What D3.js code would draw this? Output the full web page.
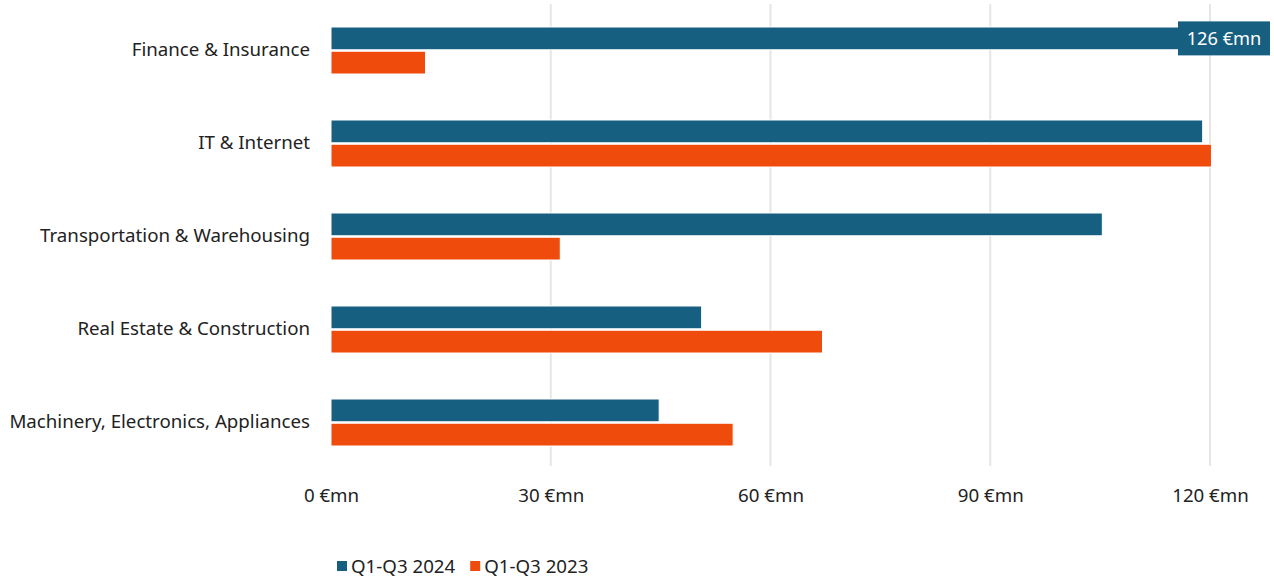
<!DOCTYPE html>
<html>
<head>
<meta charset="utf-8">
<script src="https://cdn.jsdelivr.net/npm/d3@7"></script>
<style>
  html, body { margin: 0; padding: 0; background: #fff; }
  svg { display: block; font-family: "Noto Sans", "Open Sans", sans-serif; }
</style>
</head>
<body>
<svg id="chart" width="1274" height="583"></svg>
<script>
const categories = [
  "Finance & Insurance",
  "IT & Internet",
  "Transportation & Warehousing",
  "Real Estate & Construction",
  "Machinery, Electronics, Appliances"
];
const seriesNames = ["Q1-Q3 2024", "Q1-Q3 2023"];
const values2024 = [126, 119, 105.3, 50.6, 44.8];
const values2023 = [12.9, 120.2, 31.3, 67.1, 54.9];
const tickValues = [0, 30, 60, 90, 120];
const colors = ["#175f80", "#ef4b0d"];

const FS = 18.7;
const svg = d3.select("#chart");

const x = d3.scaleLinear().domain([0, 120]).range([331, 1210]);
const y = d3.scaleBand().domain(categories).range([4, 469]);
const inner = d3.scaleBand().domain(seriesNames).range([23, 70]).paddingInner(0.06);

// vertical gridlines
svg.append("g")
  .selectAll("line")
  .data(tickValues.slice(1))
  .join("line")
  .attr("x1", d => x(d)).attr("x2", d => x(d))
  .attr("y1", 4).attr("y2", 466)
  .attr("stroke", "#e6e6e6").attr("stroke-width", 2);

// bars
const series = [values2024, values2023];
const g = svg.append("g");
series.forEach((vals, si) => {
  g.selectAll(null)
    .data(categories)
    .join("rect")
    .attr("x", x(0))
    .attr("y", c => y(c) + inner(seriesNames[si]))
    .attr("width", (c, i) => x(vals[i]) - x(0))
    .attr("height", inner.bandwidth())
    .attr("fill", colors[si])
    .attr("stroke", "#fff").attr("stroke-width", 1);
});

// value label for the leading bar
const labelText = values2024[0] + " €mn";
const lblY = y(categories[0]) + inner(seriesNames[0]) + inner.bandwidth() / 2;
const lbl = svg.append("g");
const lblRight = 1270;
const lblW = 92, lblH = 34;
lbl.append("rect")
  .attr("x", lblRight - lblW).attr("y", lblY - lblH / 2)
  .attr("width", lblW).attr("height", lblH)
  .attr("fill", colors[0]);
lbl.append("text")
  .attr("x", lblRight - lblW / 2).attr("y", lblY)
  .attr("dy", "0.35em").attr("text-anchor", "middle")
  .attr("fill", "#fff").attr("font-size", FS - 0.5)
  .text(labelText);

// category axis labels
svg.append("g")
  .selectAll("text")
  .data(categories)
  .join("text")
  .attr("x", 310)
  .attr("y", c => y(c) + y.bandwidth() / 2 - 1)
  .attr("dy", "0.35em")
  .attr("text-anchor", "end")
  .attr("font-size", FS)
  .attr("fill", "#222")
  .text(c => c);

// value axis
const xAxis = d3.axisBottom(x).tickValues(tickValues).tickSize(0).tickPadding(0)
  .tickFormat(d => d + " €mn");
const ax = svg.append("g").attr("transform", "translate(0,495)").call(xAxis);
ax.select(".domain").remove();
ax.selectAll("text").attr("font-size", FS).attr("fill", "#222")
  .attr("font-family", "'Noto Sans', 'Open Sans', sans-serif").attr("dy", "0.35em");

// legend
const legend = svg.append("g").attr("transform", "translate(337,566)");
let lx = 0;
seriesNames.forEach((name, i) => {
  const item = legend.append("g").attr("transform", `translate(${lx},0)`);
  item.append("rect").attr("x", 0).attr("y", -5).attr("width", 10).attr("height", 10).attr("fill", colors[i]);
  const t = item.append("text").attr("x", 14).attr("y", 0).attr("dy", "0.35em")
    .attr("font-size", FS).attr("fill", "#222").text(name);
  lx += 14 + t.node().getComputedTextLength() + 15;
});
</script>
</body>
</html>
